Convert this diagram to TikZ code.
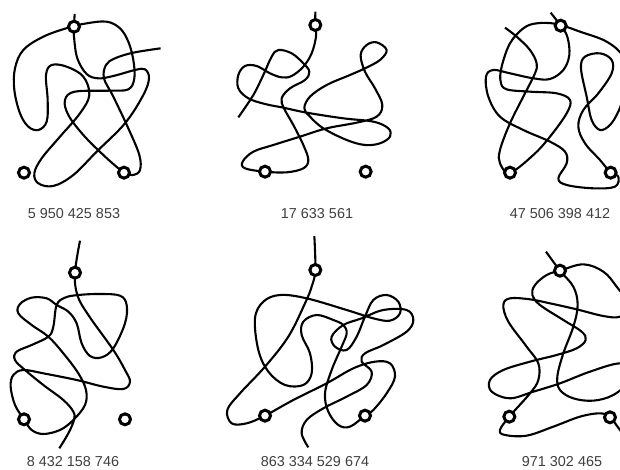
\documentclass[tikz,border=0pt]{standalone}
\usepackage{fontspec}
\setmainfont{Liberation Sans}
\begin{document}
\begin{tikzpicture}[x=1pt,y=-1pt, every node/.style={font=\fontsize{14.4}{15}\selectfont}, wire/.style={line width=2.1pt,line join=round,smooth,tension=0.6}, pin/.style={circle,draw,fill=white,line width=3pt,minimum size=11pt,inner sep=0pt}, count/.style={text=black!75,inner sep=0pt}, zoomed/.style={x=0.3333pt,y=-0.3333pt}]
\clip (0,0) rectangle (620,469);
\fill[white] (0,0) rectangle (620,469);
% top row
\begin{scope}[zoomed]
\draw[wire] plot coordinates {(224,42) (222,80) (222,110) (232,175) (260,222) (295,235) (340,228) (405,210) (435,208) (447,235) (430,285) (375,370) (290,455) (220,525) (160,558) (115,550) (103,520) (125,475) (180,410) (240,340) (268,285) (250,230) (200,200) (155,195) (138,225) (143,300) (140,365) (115,390) (85,380) (60,340) (43,270) (45,205) (70,150) (130,110) (205,83) (260,70) (320,65) (360,85) (385,125) (400,180) (403,235) (385,268) (330,272) (225,275) (195,300) (205,345) (250,405) (310,465) (355,505) (372,518) (400,525) (420,510) (418,465) (385,385) (340,290) (312,235) (318,195) (345,175) (400,158) (482,145)};
\node[pin] (pinA1) at (222,80) {};
\node[pin] (pinA2) at (72,518) {};
\node[pin] (pinA3) at (372,518) {};
\end{scope}
\node[count] (countA) at (74,214) {5 950 425 853};
\begin{scope}[shift={(210,0)},zoomed]
\draw[wire] plot coordinates {(316,35) (316,75) (318,110) (305,160) (280,200) (245,228) (215,232) (180,220) (140,198) (105,198) (85,225) (85,265) (115,295) (165,312) (220,323) (290,338) (400,355) (490,365) (535,385) (540,410) (510,430) (465,435) (410,420) (340,385) (300,350) (283,325) (300,290) (350,255) (420,225) (465,205) (510,180) (530,150) (500,127) (470,135) (452,165) (465,215) (495,265) (517,315) (500,350) (440,368) (350,385) (270,410) (190,435) (130,455) (98,485) (105,505) (165,515) (230,517) (280,505) (295,480) (280,435) (250,375) (222,325) (215,295) (240,265) (285,240) (298,215) (280,190) (245,160) (205,150) (185,170) (160,225) (130,285) (85,352)};
\node[pin] (pinB1) at (316,75) {};
\node[pin] (pinB2) at (165,515) {};
\node[pin] (pinB3) at (467,515) {};
\end{scope}
\node[count] (countB) at (317,214) {17 633 561};
\begin{scope}[shift={(410,0)},zoomed]
\draw[wire] plot coordinates {(285,83) (320,110) (360,150) (380,190) (375,220) (345,280) (300,370) (270,450) (270,490) (300,518) (370,465) (420,410) (470,340) (480,300) (440,280) (360,275) (290,268) (272,245) (275,200) (300,130) (340,85) (380,70) (440,72) (510,95) (590,125) (640,170) (650,230) (640,290) (625,335) (600,375) (570,390) (545,360) (530,290) (513,205) (525,170) (570,160) (605,180) (605,220) (565,280) (520,330) (505,380) (525,430) (570,480) (602,518) (625,530) (615,560) (550,565) (470,555) (445,535) (470,490) (465,455) (420,425) (340,390) (270,350) (235,290) (228,230) (250,210) (300,220) (370,235) (420,237) (460,210) (478,165) (472,110) (452,77) (422,38)};
\node[pin] (pinC1) at (452,77) {};
\node[pin] (pinC2) at (300,518) {};
\node[pin] (pinC3) at (602,518) {};
\end{scope}
\node[count] (countC) at (560,214) {47 506 398 412};
% bottom row
\begin{scope}[shift={(0,230)},zoomed]
\draw[wire] plot coordinates {(240,32) (225,128) (232,195) (265,255) (340,360) (375,420) (390,455) (370,477) (310,470) (230,450) (130,430) (70,420) (40,435) (32,470) (45,525) (72,568) (95,600) (130,612) (180,600) (220,570) (255,525) (258,480) (235,430) (190,370) (145,320) (95,285) (55,250) (60,222) (95,203) (140,205) (170,225) (205,245) (230,280) (245,340) (270,378) (305,382) (340,355) (375,280) (380,225) (360,197) (300,192) (235,195) (195,203) (170,225) (160,290) (145,320) (95,345) (50,365) (45,390) (75,420) (130,465) (190,510) (220,545) (222,570) (205,610) (178,655)};
\node[pin] (pinD1) at (225,128) {};
\node[pin] (pinD2) at (72,568) {};
\node[pin] (pinD3) at (375,568) {};
\end{scope}
\node[count] (countD) at (73,462) {8 432 158 746};
\begin{scope}[shift={(210,230)},zoomed]
\draw[wire] plot coordinates {(313,18) (316,120) (305,170) (285,220) (235,320) (165,410) (90,490) (52,540) (65,580) (110,580) (165,557) (250,510) (350,460) (430,415) (495,395) (540,400) (555,440) (530,490) (490,540) (465,557) (420,590) (385,585) (355,545) (345,490) (365,420) (395,350) (410,310) (400,285) (370,270) (320,255) (280,275) (275,315) (300,370) (305,430) (280,465) (225,465) (175,425) (145,360) (135,265) (160,215) (210,195) (290,205) (410,240) (490,265) (540,272) (570,250) (565,215) (530,195) (490,210) (465,260) (440,320) (410,360) (375,350) (365,320) (400,285) (455,265) (520,240) (590,240) (610,270) (590,305) (520,345) (465,370) (455,395) (485,425) (470,465) (410,500) (340,535) (290,570) (275,610) (295,652)};
\node[pin] (pinE1) at (316,120) {};
\node[pin] (pinE2) at (165,557) {};
\node[pin] (pinE3) at (465,557) {};
\end{scope}
\node[count] (countE) at (315,462) {863 334 529 674};
\begin{scope}[shift={(440,230)},zoomed]
\draw[wire] plot coordinates {(318,65) (360,122) (400,170) (413,225) (400,290) (370,370) (352,440) (360,480) (400,505) (460,512) (520,495) (575,450) (590,420) (540,400) (450,425) (360,460) (280,485) (210,505) (155,485) (150,450) (190,420) (270,395) (350,375) (410,355) (437,330) (425,305) (370,270) (300,225) (277,195) (285,165) (320,135) (360,122) (430,103) (490,125) (530,170) (570,230) (540,260) (490,258) (410,238) (330,220) (270,208) (210,205) (190,225) (205,275) (260,350) (295,400) (295,450) (270,490) (208,560) (180,600) (195,615) (260,617) (340,590) (420,560) (480,550) (510,562) (540,600) (560,625)};
\node[pin] (pinF1) at (360,122) {};
\node[pin] (pinF2) at (208,560) {};
\node[pin] (pinF3) at (510,562) {};
\end{scope}
\node[count] (countF) at (562,462) {971 302 465};
\end{tikzpicture}
\end{document}
